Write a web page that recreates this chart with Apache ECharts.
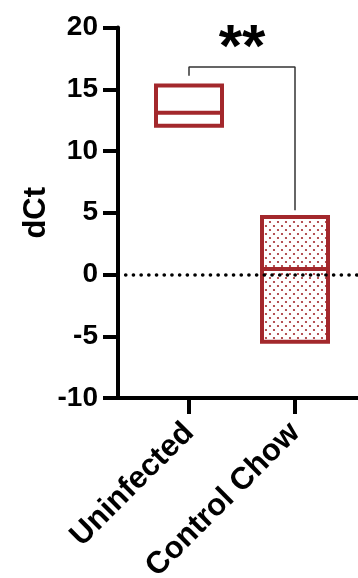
<!DOCTYPE html>
<html><head><meta charset="utf-8">
<script src="https://cdn.jsdelivr.net/npm/echarts@6/dist/echarts.min.js"></script>
<style>html,body{margin:0;padding:0;background:#fff}#c{width:358px;height:578px}</style>
</head><body><div id="c"></div>
<script>
// ---- data ----
const categories = ['Uninfected', 'Control Chow'];
const boxMin    = [12.05, -5.45];
const boxQ1     = [12.05, -5.45];
const boxMedian = [13.1, 0.45];
const boxQ3     = [15.3, 4.65];
const boxMax    = [15.3, 4.65];
const yMin = -10, yMax = 20, yStep = 5;
const yName = 'dCt';
const bracketLeftY = 16.1, bracketTopY = 16.8, bracketRightY = 5.2;
const sigLabel = '**';
const sigLabelY = 18.2;
const zeroLine = 0;

const RED = '#a3282c';
const FONT = '"Liberation Sans", Arial, Helvetica, sans-serif';

const pc = document.createElement('canvas');
pc.width = 8; pc.height = 8;
const px = pc.getContext('2d');
px.fillStyle = '#fff'; px.fillRect(0,0,8,8);
px.fillStyle = RED;
px.beginPath(); px.arc(2,2,1.1,0,Math.PI*2); px.fill();
px.beginPath(); px.arc(6,6,1.1,0,Math.PI*2); px.fill();

const boxData = categories.map((c,i)=>({
  value:[boxMin[i], boxQ1[i], boxMedian[i], boxQ3[i], boxMax[i]],
  itemStyle: i === 1 ? {color:{image:pc, repeat:'repeat'}} : {color:'#fff'}
}));

function buildOption(){
  return {
    animation:false,
    backgroundColor:'#fff',
    grid:[
      {left:118, right:0, top:27.5, bottom:180, outerBoundsMode:'none', containLabel:false},
      {left:136, width:212, top:27.5, bottom:180, outerBoundsMode:'none', containLabel:false}
    ],
    xAxis:[
      {type:'category', data:[''], gridIndex:0,
       axisLine:{show:true, onZero:false, lineStyle:{color:'#000', width:4}},
       axisTick:{show:false}, axisLabel:{show:false}, splitLine:{show:false}},
      {type:'category', data:categories, gridIndex:1,
       axisLine:{show:false, onZero:false},
       axisTick:{show:true, alignWithLabel:true, length:16, lineStyle:{color:'#000', width:4}},
       axisLabel:{rotate:45, margin:30, color:'#000', fontFamily:FONT, fontWeight:'bold', fontSize:31},
       splitLine:{show:false}}
    ],
    yAxis:[
      {type:'value', min:yMin, max:yMax, interval:yStep, gridIndex:0,
        name:yName, nameLocation:'middle', nameGap:66, nameMoveOverlap:false,
        nameTextStyle:{color:'#000', fontFamily:FONT, fontWeight:'bold', fontSize:31},
        axisLine:{show:true, onZero:false, lineStyle:{color:'#000', width:4}},
        axisTick:{show:true, inside:false, length:15, lineStyle:{color:'#000', width:4}},
        axisLabel:{color:'#000', fontFamily:FONT, fontWeight:'bold', fontSize:28, margin:20, hideOverlap:false},
        splitLine:{show:false}},
      {type:'value', min:yMin, max:yMax, interval:yStep, gridIndex:1, show:false, splitLine:{show:false}}
    ],
    series:[
      {type:'boxplot', xAxisIndex:1, yAxisIndex:1, boxWidth:[66,66], data:boxData,
       itemStyle:{borderColor:RED, borderWidth:4}, z:2},
      {type:'line', xAxisIndex:1, yAxisIndex:1, symbol:'none', silent:true,
       data:[[categories[0],bracketLeftY],[categories[0],bracketTopY],[categories[1],bracketTopY],[categories[1],bracketRightY]],
       lineStyle:{color:'#333', width:1.5}, z:3},
      {type:'line', xAxisIndex:0, yAxisIndex:0, data:[], z:5,
       markLine:{silent:true, symbol:'none', label:{show:false},
         lineStyle:{color:'#000', width:3.6, type:[0.1,7.6], cap:'round'},
         data:[{yAxis:zeroLine}]}}
    ]
  };
}

const chart = echarts.init(document.getElementById('c'), null, {renderer:'canvas'});
function render(){
  chart.clear();
  chart.setOption(buildOption(), true);
  const p1 = chart.convertToPixel({xAxisIndex:1, yAxisIndex:1}, [categories[0], sigLabelY]);
  const p2 = chart.convertToPixel({xAxisIndex:1, yAxisIndex:1}, [categories[1], sigLabelY]);
  chart.setOption({graphic:[{type:'text', x:(p1[0]+p2[0])/2, y:p1[1],
    style:{text:sigLabel, fill:'#000', font:'bold 60px ' + FONT, align:'center', verticalAlign:'middle'}}]});
}
render();
if (document.fonts && document.fonts.ready) document.fonts.ready.then(render);
setTimeout(render, 50);
</script></body></html>
